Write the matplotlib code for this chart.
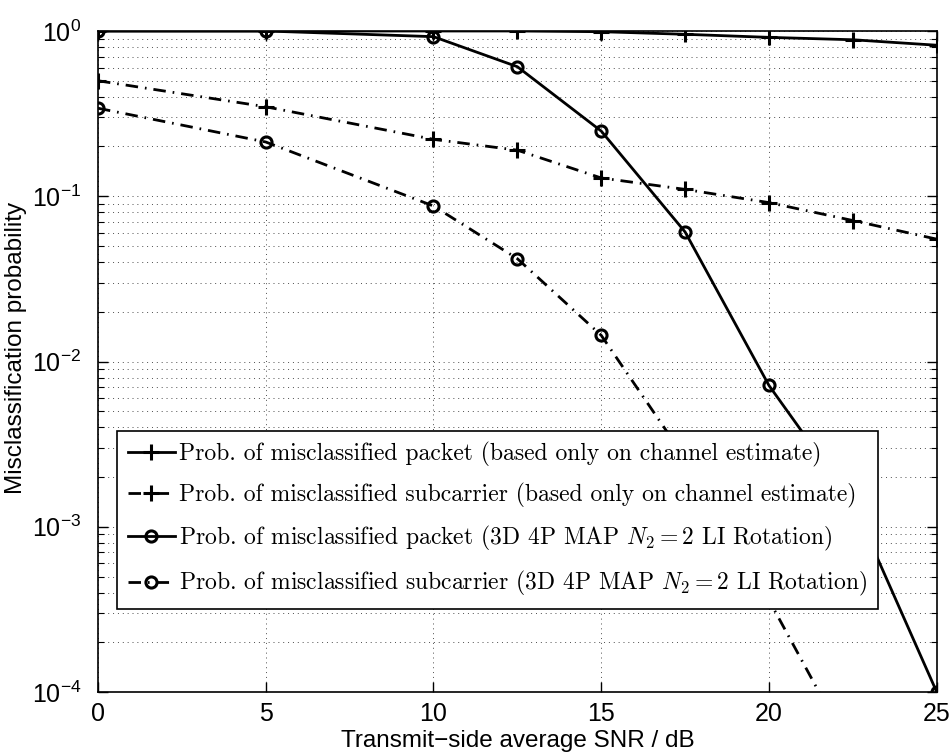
import matplotlib
matplotlib.use("Agg")
import matplotlib.pyplot as plt
from matplotlib.font_manager import FontProperties

# data
snr = [0, 5, 10, 12.5, 15, 17.5, 20, 22.5, 25]
pkt_ce = [1.0, 1.0, 1.0, 1.0, 0.99, 0.955, 0.915, 0.885, 0.82]
sub_ce = [0.50, 0.348, 0.221, 0.19, 0.129, 0.110, 0.0915, 0.0713, 0.055]
pkt_3d = [1.0, 1.0, 0.924, 0.608, 0.248, 0.0608, 0.00716, 0.0014, 1e-4]
snr_sub_3d = [0, 5, 10, 12.5, 15, 17.5, 20, 22.5]
sub_3d = [0.341, 0.213, 0.0873, 0.0419, 0.0144, 0.0026, 3.6e-4, 4.2e-5]

labels = [
    'Prob. of misclassified packet (based only on channel estimate)',
    'Prob. of misclassified subcarrier (based only on channel estimate)',
    r'Prob. of misclassified packet (3D 4P MAP $N_2 = 2$ LI Rotation)',
    r'Prob. of misclassified subcarrier (3D 4P MAP $N_2 = 2$ LI Rotation)',
]

plt.rcParams['font.family'] = ['Liberation Sans', 'DejaVu Sans']
plt.rcParams['mathtext.fontset'] = 'custom'
plt.rcParams['mathtext.rm'] = 'Liberation Sans'
plt.rcParams['mathtext.it'] = 'Liberation Sans:italic'
plt.rcParams['mathtext.bf'] = 'Liberation Sans:bold'
plt.rcParams['axes.unicode_minus'] = True

fig = plt.figure(figsize=(9.51, 7.54), dpi=100)
ax = fig.add_axes([0.103, 0.0822, 0.882, 0.8767])

dashdot = (4.5, 2.5, 0.6, 2.5)
lw = 2.0

ax.plot(snr, pkt_ce, color='k', lw=lw, ls='-', marker='+', ms=11, mew=2.2, label=labels[0])
ax.plot(snr, sub_ce, color='k', lw=lw, ls='-', dashes=dashdot, marker='+', ms=11, mew=2.2, label=labels[1])
ax.plot(snr, pkt_3d, color='k', lw=lw, ls='-', marker='o', ms=8, mew=2.2, mfc='none', label=labels[2])
ax.plot(snr_sub_3d, sub_3d, color='k', lw=lw, ls='-', dashes=dashdot, marker='o', ms=8, mew=2.2,
        mfc='none', label=labels[3])

ax.set_yscale('log')
ax.set_xlim(0, 25)
ax.set_ylim(1e-4, 1)
ax.set_xticks([0, 5, 10, 15, 20, 25])
ax.set_yticks([1e-4, 1e-3, 1e-2, 1e-1, 1])

# MATLAB style grid and ticks
ax.grid(True, which='major', ls=(0, (1, 4)), color='0.3', lw=0.7)
ax.grid(True, which='minor', axis='y', ls=(0, (1, 4)), color='0.3', lw=0.7)
ax.tick_params(which='both', direction='in', top=True, right=True, labelsize=18)
ax.tick_params(axis='x', pad=7)
ax.tick_params(axis='y', pad=12)
ax.tick_params(which='major', length=7, width=1)
ax.tick_params(which='minor', length=4, width=0.8)
ax.tick_params(axis='x', which='minor', bottom=False, top=False)
for s in ax.spines.values():
    s.set_linewidth(1.2)

ax.set_xlabel('Transmit\u2212side average SNR / dB', fontsize=17.5, labelpad=3)
ax.set_ylabel('Misclassification probability', fontsize=17.5)
ax.yaxis.set_label_coords(-0.085, 0.52)

leg_font = FontProperties(family='cmr10', size=17, math_fontfamily='cm')
leg = ax.legend(loc='lower left', bbox_to_anchor=(0.0226, 0.1256), borderaxespad=0,
                prop=leg_font, fancybox=False, framealpha=1, edgecolor='k',
                handlelength=2.0, handletextpad=0.2, labelspacing=0.68, borderpad=0.45)
leg.get_frame().set_linewidth(1.2)

fig.savefig('out.png', dpi=100)
